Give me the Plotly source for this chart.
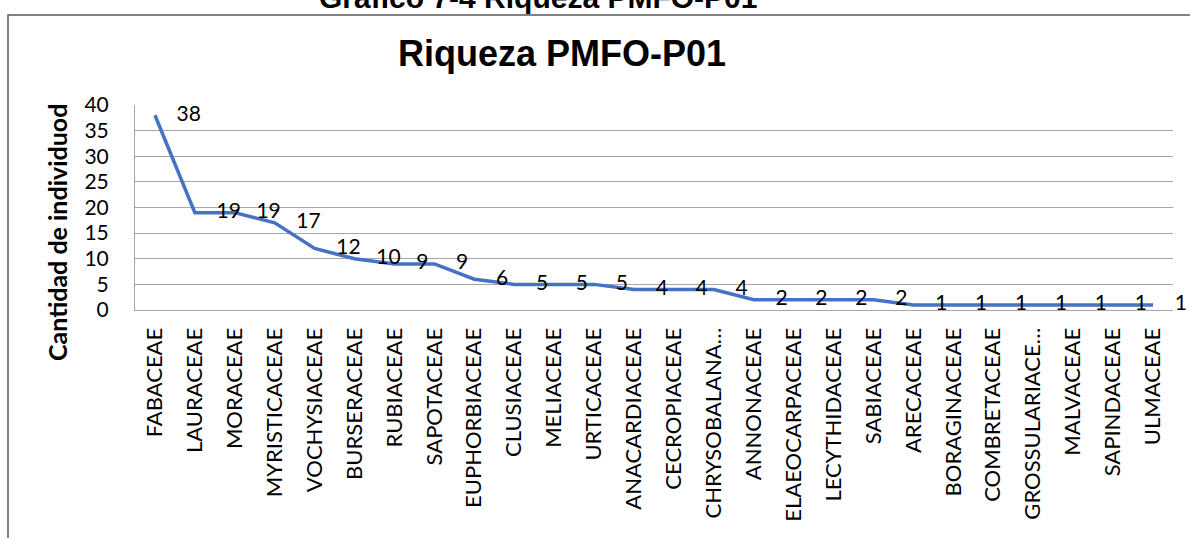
import plotly.graph_objects as go

familias = ["FABACEAE", "LAURACEAE", "MORACEAE", "MYRISTICACEAE", "VOCHYSIACEAE",
            "BURSERACEAE", "RUBIACEAE", "SAPOTACEAE", "EUPHORBIACEAE", "CLUSIACEAE",
            "MELIACEAE", "URTICACEAE", "ANACARDIACEAE", "CECROPIACEAE", "CHRYSOBALANA…",
            "ANNONACEAE", "ELAEOCARPACEAE", "LECYTHIDACEAE", "SABIACEAE", "ARECACEAE",
            "BORAGINACEAE", "COMBRETACEAE", "GROSSULARIACE…", "MALVACEAE", "SAPINDACEAE",
            "ULMACEAE"]
individuos = [38, 19, 19, 17, 12, 10, 9, 9, 6, 5, 5, 5, 4, 4, 4, 2, 2, 2, 2, 1, 1, 1, 1, 1, 1, 1]
y_ticks = [0, 5, 10, 15, 20, 25, 30, 35, 40]

idx = list(range(len(familias)))

W, H = 1190, 538
L, R, T, B = 135, W - 1173, 105, H - 310
pw, ph = W - L - R, H - T - B

def px(x):
    return (x - L) / pw

def py(y):
    return (H - B - y) / ph

fig = go.Figure()
fig.add_trace(go.Scatter(
    x=idx, y=individuos, mode="lines",
    line=dict(color="#4472C4", width=3.5), hoverinfo="skip", showlegend=False,
))
fig.add_trace(go.Scatter(
    x=idx, y=individuos, mode="markers+text",
    text=[str(v) for v in individuos], textposition="middle right",
    textfont=dict(family="Lato", size=21, color="#000000"),
    marker=dict(size=33, opacity=0), hoverinfo="skip", showlegend=False,
    cliponaxis=False,
))

fig.update_layout(
    width=W, height=H,
    margin=dict(l=L, r=R, t=T, b=B),
    paper_bgcolor="white", plot_bgcolor="white",
    xaxis=dict(
        range=[-0.5, len(familias) - 0.5],
        tickmode="array", tickvals=idx, ticktext=familias,
        tickangle=-90, tickfont=dict(family="Lato", size=22, color="#000000"),
        showgrid=False, zeroline=False, showline=True, linecolor="#A6A6A6", linewidth=1,
        ticks="", ticklabelstandoff=8, fixedrange=True, automargin=False,
    ),
    yaxis=dict(
        range=[0, 40], tickmode="array", tickvals=y_ticks,
        tickfont=dict(family="Lato", size=21, color="#000000"),
        showgrid=True, gridcolor="#A6A6A6", gridwidth=1,
        zeroline=False, showline=True, linecolor="#A6A6A6", linewidth=1,
        ticks="", ticklabelstandoff=21, fixedrange=True, automargin=False,
    ),
    shapes=[dict(type="rect", xref="paper", yref="paper",
                 x0=px(8), x1=px(1240), y0=py(15), y1=py(600),
                 line=dict(color="#595959", width=1.5), fillcolor="rgba(0,0,0,0)", layer="below")],
    annotations=[
        dict(text="<b>Gráfico 7-4 Riqueza PMFO-P01</b>", xref="paper", yref="paper",
             x=px(538), y=py(16), xanchor="center", yanchor="bottom", showarrow=False,
             font=dict(family="Liberation Sans", size=30, color="#000000")),
        dict(text="<b>Riqueza PMFO-P01</b>", xref="paper", yref="paper",
             x=px(562), y=py(53), xanchor="center", yanchor="middle", showarrow=False,
             font=dict(family="Liberation Sans", size=36, color="#000000")),
        dict(text="<b>Cantidad de individuod</b>", xref="paper", yref="paper",
             x=px(57), y=py(233), xanchor="center", yanchor="middle", showarrow=False,
             textangle=-90,
             font=dict(family="Lato", size=25, color="#000000")),
    ],
)

fig.write_html("out.html", config={"displayModeBar": False},
               post_script="document.body.style.margin='0';")
